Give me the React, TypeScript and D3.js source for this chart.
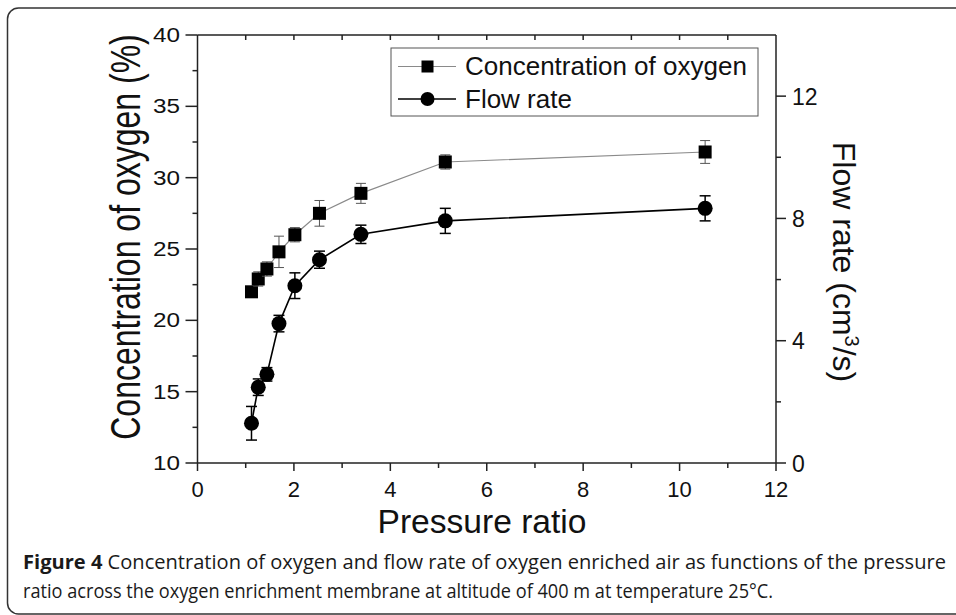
import React from 'react';
import * as d3 from 'd3';

// pressure ratio (x) shared by both series
const pressureRatio = [1.12, 1.26, 1.44, 1.69, 2.02, 2.53, 3.39, 5.14, 10.53];
// concentration of oxygen (%) - left axis
const oxygenConc = [22.0, 22.9, 23.6, 24.8, 26.0, 27.5, 28.9, 31.1, 31.8];
const oxygenErr = [0.3, 0.5, 0.5, 1.1, 0.5, 0.9, 0.7, 0.5, 0.8];
// flow rate (cm3/s) - right axis
const flowRate = [1.3, 2.48, 2.9, 4.56, 5.8, 6.65, 7.48, 7.92, 8.33];
const flowErr = [0.55, 0.27, 0.22, 0.27, 0.42, 0.28, 0.3, 0.41, 0.41];

const xTicks = [0, 2, 4, 6, 8, 10, 12];
const leftTicks = [10, 15, 20, 25, 30, 35, 40];
const rightTicks = [0, 4, 8, 12];

const W = 956;
const H = 615;
const FONT = '"Liberation Sans", Arial, sans-serif';
const CAPTION_FONT = '"Open Sans", sans-serif';

export default function App() {
  const x = d3.scaleLinear().domain([0, 12]).range([197.5, 776]);
  const yL = d3.scaleLinear().domain([10, 40]).range([463, 35]);
  const yR = d3.scaleLinear().domain([0, 14]).range([463, 35]);

  const concLine = d3.line<number>().x((d, i) => x(pressureRatio[i])).y(d => yL(d));
  const flowLine = d3.line<number>().x((d, i) => x(pressureRatio[i])).y(d => yR(d));

  const axisCol = '#222';
  const concCol = '#8a8a8a';

  const [x0, x1] = x.range();
  const yBot = 463, yTop = 35;

  // minor ticks
  const xMinor = d3.range(1, 12, 2);
  const topTicks = d3.range(1, 12, 1);
  const leftMinor = d3.range(12.5, 40, 5);
  const rightMinor = [2, 6, 10];

  return (
    <svg width={W} height={H} style={{ position: 'absolute', left: 0, top: 0, background: '#fff' }} fontFamily={FONT}>
      {/* frame */}
      <rect x={7.5} y={8} width={1000} height={606} rx={11} fill="none" stroke="#333" strokeWidth={1.5} />

      {/* axes frame */}
      <line x1={x0} x2={x1} y1={yBot} y2={yBot} stroke={axisCol} strokeWidth={1.5} />
      <line x1={x0} x2={x1} y1={yTop} y2={yTop} stroke={axisCol} strokeWidth={1.5} />
      <line x1={x0} x2={x0} y1={yTop} y2={yBot} stroke={axisCol} strokeWidth={1.5} />
      <line x1={x1} x2={x1} y1={yTop} y2={yBot} stroke={axisCol} strokeWidth={1.5} />

      {/* bottom axis */}
      {xTicks.map(t => (
        <g key={'xb' + t}>
          <line x1={x(t)} x2={x(t)} y1={yBot} y2={yBot + 8} stroke={axisCol} strokeWidth={1.5} />
          <text x={x(t)} y={497} fontSize={22} textAnchor="middle" fill="#111">{t}</text>
        </g>
      ))}
      {xMinor.map(t => (
        <line key={'xm' + t} x1={x(t)} x2={x(t)} y1={yBot} y2={yBot + 5} stroke={axisCol} strokeWidth={1.5} />
      ))}
      {/* top axis ticks (inward) */}
      {topTicks.map(t => (
        <line key={'xt' + t} x1={x(t)} x2={x(t)} y1={yTop} y2={yTop + 5} stroke={axisCol} strokeWidth={1.5} />
      ))}

      {/* left axis */}
      {leftTicks.map(t => (
        <g key={'yl' + t}>
          <line x1={x0 - 12} x2={x0} y1={yL(t)} y2={yL(t)} stroke={axisCol} strokeWidth={1.5} />
          <text x={180} y={yL(t) + 7} fontSize={20} textAnchor="end" textLength={27} lengthAdjust="spacingAndGlyphs" fill="#111">{t}</text>
        </g>
      ))}
      {leftMinor.map(t => (
        <line key={'ylm' + t} x1={x0 - 5} x2={x0} y1={yL(t)} y2={yL(t)} stroke={axisCol} strokeWidth={1.5} />
      ))}

      {/* right axis */}
      {rightTicks.map(t => (
        <g key={'yr' + t}>
          <line x1={x1} x2={x1 + 10} y1={yR(t)} y2={yR(t)} stroke={axisCol} strokeWidth={1.5} />
          <text x={792} y={yR(t) + 8.5} fontSize={23} textAnchor="start" fill="#111">{t}</text>
        </g>
      ))}
      {rightMinor.map(t => (
        <line key={'yrm' + t} x1={x1} x2={x1 + 5} y1={yR(t)} y2={yR(t)} stroke={axisCol} strokeWidth={1.5} />
      ))}

      {/* axis titles */}
      <text transform={`translate(140,237) scale(1.3,1) rotate(-90)`} fontSize={32} textAnchor="middle" fill="#111">
        Concentration of oxygen (%)
      </text>
      <text transform={`translate(833,262) rotate(90)`} fontSize={32} textAnchor="middle" fill="#111">
        Flow rate (cm<tspan dy={-12} fontSize={20}>3</tspan><tspan dy={12}>/s)</tspan>
      </text>
      <text x={482} y={533} fontSize={33} textAnchor="middle" textLength={209} lengthAdjust="spacingAndGlyphs" fill="#111">
        Pressure ratio
      </text>

      {/* concentration series */}
      <path d={concLine(oxygenConc) || ''} fill="none" stroke={concCol} strokeWidth={1.2} />
      {oxygenConc.map((v, i) => {
        const cx = x(pressureRatio[i]);
        const lo = yL(v - oxygenErr[i]);
        const hi = yL(v + oxygenErr[i]);
        return (
          <g key={'c' + i}>
            <line x1={cx} x2={cx} y1={lo} y2={hi} stroke="#555" strokeWidth={1} />
            <line x1={cx - 5} x2={cx + 5} y1={lo} y2={lo} stroke="#555" strokeWidth={1} />
            <line x1={cx - 5} x2={cx + 5} y1={hi} y2={hi} stroke="#555" strokeWidth={1} />
            <rect x={cx - 6.5} y={yL(v) - 6.5} width={13} height={13} fill="#000" />
          </g>
        );
      })}

      {/* flow rate series */}
      <path d={flowLine(flowRate) || ''} fill="none" stroke="#000" strokeWidth={1.6} />
      {flowRate.map((v, i) => {
        const cx = x(pressureRatio[i]);
        const lo = yR(v - flowErr[i]);
        const hi = yR(v + flowErr[i]);
        return (
          <g key={'f' + i}>
            <line x1={cx} x2={cx} y1={lo} y2={hi} stroke="#000" strokeWidth={1.5} />
            <line x1={cx - 5.5} x2={cx + 5.5} y1={lo} y2={lo} stroke="#000" strokeWidth={1.5} />
            <line x1={cx - 5.5} x2={cx + 5.5} y1={hi} y2={hi} stroke="#000" strokeWidth={1.5} />
            <circle cx={cx} cy={yR(v)} r={7.5} fill="#000" />
          </g>
        );
      })}

      {/* legend */}
      <rect x={391} y={48} width={367} height={68} fill="#fff" stroke="#555" strokeWidth={1} />
      <line x1={398} x2={456} y1={66.5} y2={66.5} stroke={concCol} strokeWidth={1.2} />
      <rect x={421.5} y={60.5} width={12} height={12} fill="#000" />
      <text x={465} y={75} fontSize={26} fill="#111">Concentration of oxygen</text>
      <line x1={398} x2={456} y1={99} y2={99} stroke="#000" strokeWidth={1.6} />
      <circle cx={427.5} cy={99} r={7} fill="#000" />
      <text x={465} y={108} fontSize={26} fill="#111">Flow rate</text>

      {/* caption */}
      <text x={23} y={569} fontSize={20} fontFamily={CAPTION_FONT} fill="#1a1a1a" textLength={923} lengthAdjust="spacingAndGlyphs">
        <tspan fontWeight="bold">Figure 4</tspan> Concentration of oxygen and flow rate of oxygen enriched air as functions of the pressure
      </text>
      <text x={23} y={598} fontSize={20} fontFamily={CAPTION_FONT} fill="#1a1a1a" textLength={750} lengthAdjust="spacingAndGlyphs">
        ratio across the oxygen enrichment membrane at altitude of 400 m at temperature 25°C.
      </text>
    </svg>
  );
}
